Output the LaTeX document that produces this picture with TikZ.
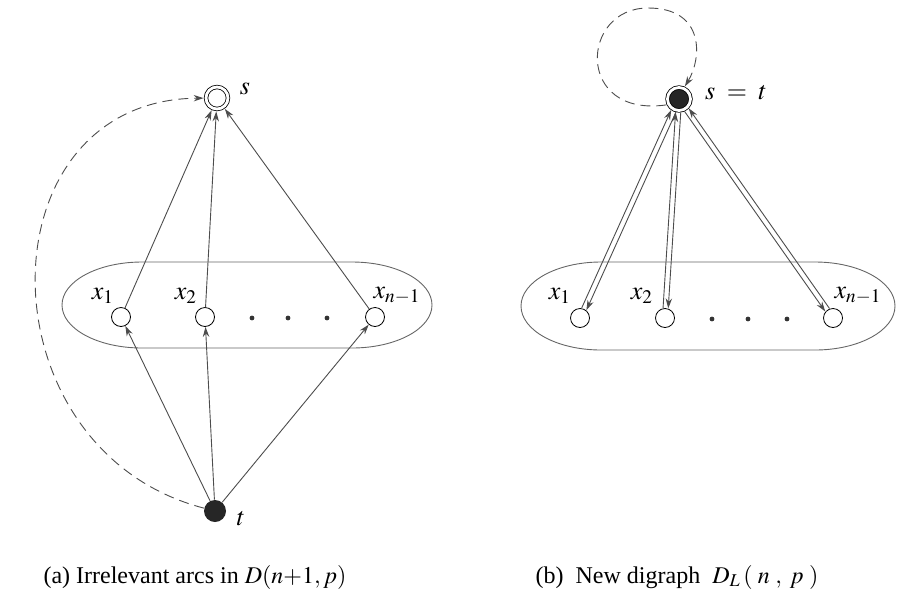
\documentclass[tikz,border=0pt]{standalone}
\usepackage{mathptmx}
\usepackage{fontspec}
\setmainfont{Liberation Serif}
\usetikzlibrary{arrows.meta,calc}

\tikzset{
  vtx/.style={circle,draw,fill=white,minimum size=9.5pt,inner sep=0pt},
  src/.style={circle,draw,double,double distance=1.4pt,minimum size=11pt,inner sep=0pt,outer sep=1.2pt},
  srcsnk/.style={circle,draw,double=white,double distance=1.4pt,fill=black!85,minimum size=11.5pt,inner sep=0pt,outer sep=1.2pt},
  snk/.style={circle,fill=black!85,minimum size=11pt,inner sep=0pt},
  dotnode/.style={circle,fill=black!80,minimum size=2.4pt,inner sep=0pt},
  lbl/.style={font=\fontsize{13}{15}\selectfont},
  captext/.style={font=\fontsize{12}{14}\selectfont},
  arcline/.style={->,black!70,line width=.45pt},
  dashline/.style={dash pattern=on 5pt off 3pt},
  group/.style={black!60,line width=.45pt}
}

\begin{document}
\begin{tikzpicture}[x=.5pt,y=-.5pt,>={Stealth[length=5pt,width=3.2pt]}]
  \useasboundingbox (0,0) rectangle (898,600);
  % (a) irrelevant arcs
  \draw[group] (142,262) -- (352,262) arc[start angle=-90,end angle=90,x radius=80,y radius=43]
    -- (142,348) arc[start angle=90,end angle=270,x radius=80,y radius=43] -- cycle;
  \node[src] (s) at (217,98) {};
  \node[vtx] (x1) at (121,317) {};
  \node[vtx] (x2) at (205,317) {};
  \node[vtx] (xn) at (375,317) {};
  \node[snk] (t) at (215,511) {};
  \node[dotnode] (d1) at (252,318) {};
  \node[dotnode] (d2) at (288,318) {};
  \node[dotnode] (d3) at (327,318) {};
  \node[lbl] (ls) at (245,89) {$s$};
  \node[lbl] (lt) at (241,519) {$t$};
  \node[lbl] (lx1) at (103,296) {$x_1$};
  \node[lbl] (lx2) at (186,296) {$x_2$};
  \node[lbl] (lxn) at (397,296) {$x_{n-1}$};
  \draw[arcline] (x1) -- (s);
  \draw[arcline] (x2) -- (s);
  \draw[arcline] (xn) -- (s);
  \draw[arcline] (t) -- (x1);
  \draw[arcline] (t) -- (x2);
  \draw[arcline] (t) -- (xn);
  \draw[arcline,dashline] (t) .. controls (-20,450) and (-20,100) .. (s);
  \node[captext] (capa) at (195,577) {(a)\ Irrelevant arcs in $D(n{+}1,p)$};
  % (b) new digraph
  \draw[group] (601,262) -- (815,262) arc[start angle=-90,end angle=90,x radius=80,y radius=44]
    -- (601,350) arc[start angle=90,end angle=270,x radius=80,y radius=44] -- cycle;
  \node[srcsnk] (st) at (679,99) {};
  \node[vtx] (bx1) at (580,318) {};
  \node[vtx] (bx2) at (665,318) {};
  \node[vtx] (bxn) at (833,318) {};
  \node[dotnode] (e1) at (712,319) {};
  \node[dotnode] (e2) at (748,319) {};
  \node[dotnode] (e3) at (787,319) {};
  \node[lbl] (lst) at (736,93) {$s\;=\;t$};
  \node[lbl] (lbx1) at (560,296) {$x_1$};
  \node[lbl] (lbx2) at (642,296) {$x_2$};
  \node[lbl] (lbxn) at (858,296) {$x_{n-1}$};
  \coordinate (looptop) at (648,8);
  \draw[arcline,dashline] (st.205) .. controls (575,118) and (580,8) .. (looptop)
    .. controls (705,8) and (702,58) .. (st.65);
  \draw[arcline,shorten <=4.9pt,shorten >=6.6pt] ($(bx1)!1.3pt!90:(st)$) -- ($(st)!1.3pt!-90:(bx1)$);
  \draw[arcline,shorten <=6.6pt,shorten >=4.9pt] ($(st)!1.3pt!90:(bx1)$) -- ($(bx1)!1.3pt!-90:(st)$);
  \draw[arcline,shorten <=4.9pt,shorten >=6.6pt] ($(bx2)!1.3pt!90:(st)$) -- ($(st)!1.3pt!-90:(bx2)$);
  \draw[arcline,shorten <=6.6pt,shorten >=4.9pt] ($(st)!1.3pt!90:(bx2)$) -- ($(bx2)!1.3pt!-90:(st)$);
  \draw[arcline,shorten <=4.9pt,shorten >=6.6pt] ($(bxn)!1.3pt!-90:(st)$) -- ($(st)!1.3pt!90:(bxn)$);
  \draw[arcline,shorten <=6.6pt,shorten >=4.9pt] ($(st)!1.3pt!-90:(bxn)$) -- ($(bxn)!1.3pt!90:(st)$);
  \node[captext] (capb) at (677,577) {(b)\ \ New digraph\ \ $D_L\,(\;n\;,\;p\;)$};
\end{tikzpicture}
\end{document}
